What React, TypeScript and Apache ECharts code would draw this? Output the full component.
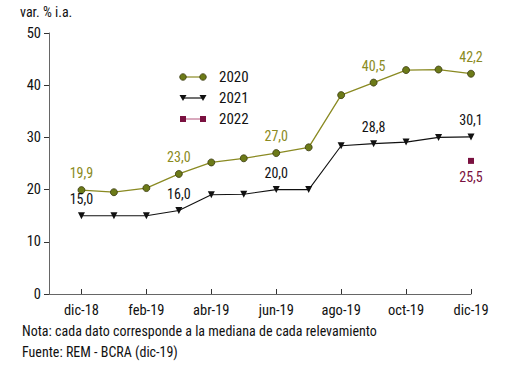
import React, { useEffect, useRef } from "react";
import * as echarts from "echarts";

const categories = ["dic-18", "ene-19", "feb-19", "mar-19", "abr-19", "may-19", "jun-19", "jul-19", "ago-19", "sep-19", "oct-19", "nov-19", "dic-19"];
const s2020 = [19.9, 19.5, 20.3, 23.0, 25.2, 26.0, 27.0, 28.1, 38.1, 40.5, 42.9, 43.0, 42.2];
const s2021 = [15.0, 15.0, 15.0, 16.0, 19.0, 19.1, 20.0, 20.0, 28.4, 28.8, 29.1, 30.0, 30.1];
const s2022 = [null, null, null, null, null, null, null, null, null, null, null, null, 25.5];
const labelIdx = [0, 3, 6, 9, 12];
const yTicks = { min: 0, max: 50, interval: 10 };

const FONT = "'Roboto Condensed', 'DejaVu Sans Condensed', Roboto, sans-serif";
const C2020 = "#8a8a22";
const C2020M = "#6c7a18";
const C2021 = "#111111";
const C2022 = "#7a1140";

const fmt = (v: number) => v.toFixed(1).replace(".", ",");

export default function App() {
  const ref = useRef<HTMLDivElement>(null);
  useEffect(() => {
    if (!ref.current) return;
    const chart = echarts.init(ref.current, null, { renderer: "svg" });
    const cats = ["", ...categories];
    const pad = (arr: (number | null)[]) => [null, ...arr];
    const lbl = (color: string, pos: string) => ({
      show: true,
      position: pos,
      distance: 6,
      color,
      fontFamily: FONT,
      fontSize: 14,
      formatter: (p: any) => (labelIdx.includes(p.dataIndex - 1) && p.value != null ? fmt(p.value) : ""),
    });
    const legendRow = (y: number, symbol: string, name: string, lineColor: string, mColor: string) => {
      const els: any[] = [
        { type: "line", shape: { x1: 183, y1: y, x2: 203, y2: y }, style: { stroke: lineColor, lineWidth: 1.2 } },
      ];
      for (const x of [183, 203]) {
        if (symbol === "circle") els.push({ type: "circle", shape: { cx: x, cy: y, r: 3.3 }, style: { fill: mColor, stroke: "#3a3a10", lineWidth: 0.8 } });
        if (symbol === "tri") els.push({ type: "polygon", shape: { points: [[x - 3.5, y - 3], [x + 3.5, y - 3], [x, y + 3]] }, style: { fill: mColor } });
        if (symbol === "rect") els.push({ type: "rect", shape: { x: x - 3, y: y - 3, width: 6, height: 6 }, style: { fill: mColor } });
      }
      els.push({ type: "text", x: 219, y, style: { text: name, fill: "#111", font: `15px ${FONT}`, textVerticalAlign: "middle" } });
      return els;
    };
    chart.setOption({
      animation: false,
      grid: { left: 49, right: 42, top: 33, bottom: 77 },
      xAxis: {
        type: "category",
        data: cats,
        boundaryGap: false,
        axisLine: { lineStyle: { color: "#666" } },
        axisTick: { inside: true, length: 5, interval: (i: number) => i % 2 === 1, lineStyle: { color: "#333" } },
        axisLabel: { interval: (i: number) => i % 2 === 1, color: "#111", fontFamily: FONT, fontSize: 14.5, margin: 9 },
      },
      yAxis: {
        type: "value",
        ...yTicks,
        splitLine: { show: false },
        axisLine: { show: true, lineStyle: { color: "#666" } },
        axisTick: { show: true, length: 5, lineStyle: { color: "#333" } },
        axisLabel: { color: "#111", fontFamily: FONT, fontSize: 14.5, margin: 8 },
      },
      series: [
        {
          name: "2020", type: "line", data: pad(s2020), symbol: "circle", symbolSize: 7,
          lineStyle: { color: C2020, width: 1.3 },
          itemStyle: { color: C2020M, borderColor: "#3a3a10", borderWidth: 0.8 },
          label: lbl(C2020, "top"),
        },
        {
          name: "2021", type: "line", data: pad(s2021), symbol: "triangle", symbolRotate: 180, symbolSize: 7,
          lineStyle: { color: C2021, width: 1.1 },
          itemStyle: { color: C2021 },
          label: lbl(C2021, "top"),
        },
        {
          name: "2022", type: "line", data: pad(s2022), symbol: "rect", symbolSize: 6,
          lineStyle: { color: C2022, width: 1 },
          itemStyle: { color: C2022 },
          label: lbl(C2022, "bottom"),
        },
      ],
      graphic: [
        { type: "text", x: 20, y: 12, style: { text: "var. % i.a.", fill: "#111", font: `14px ${FONT}`, textVerticalAlign: "middle" } },
        ...legendRow(77, "circle", "2020", C2020, C2020M),
        ...legendRow(98, "tri", "2021", C2021, C2021),
        ...legendRow(119, "rect", "2022", "#c07090", C2022),
        { type: "text", x: 22, y: 331, style: { text: "Nota: cada dato corresponde a la mediana de cada relevamiento", fill: "#111", font: `14px ${FONT}`, textVerticalAlign: "middle" } },
        { type: "text", x: 22, y: 352, style: { text: "Fuente: REM - BCRA (dic-19)", fill: "#111", font: `14px ${FONT}`, textVerticalAlign: "middle" } },
      ],
    });
    return () => chart.dispose();
  }, []);
  return <div ref={ref} style={{ width: 513, height: 371, position: "absolute", left: 0, top: 0 }} />;
}
